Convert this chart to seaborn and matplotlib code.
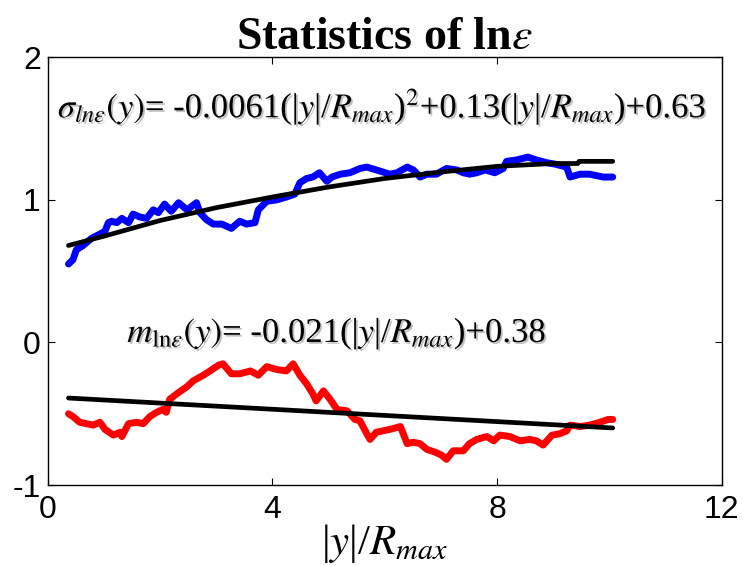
import matplotlib
matplotlib.use("Agg")
import matplotlib.pyplot as plt
import matplotlib.patheffects as pe
import seaborn as sns
import pandas as pd

# ---- data ----
sigma_x = [0.37, 0.45, 0.51, 0.63, 0.78, 0.93, 1.02, 1.08, 1.14, 1.23, 1.32, 1.44, 1.52, 1.64,
           1.76, 1.88, 1.97, 2.08, 2.20, 2.33, 2.48, 2.65, 2.71, 2.83, 2.95, 3.10, 3.27, 3.42,
           3.54, 3.69, 3.75, 3.90, 4.08, 4.25, 4.40, 4.49, 4.61, 4.72, 4.84, 4.97, 5.06, 5.21,
           5.38, 5.56, 5.68, 5.85, 6.09, 6.22, 6.40, 6.51, 6.63, 6.75, 6.92, 7.10, 7.28, 7.40,
           7.51, 7.64, 7.79, 7.96, 8.11, 8.17, 8.35, 8.55, 8.70, 8.89, 9.04, 9.24, 9.30, 9.48,
           9.65, 9.89, 10.06]
sigma_y = [0.55, 0.58, 0.65, 0.68, 0.73, 0.76, 0.78, 0.84, 0.85, 0.84, 0.87, 0.84, 0.90, 0.88,
           0.87, 0.93, 0.91, 0.97, 0.92, 0.98, 0.93, 0.98, 0.91, 0.86, 0.83, 0.83, 0.80, 0.85,
           0.83, 0.84, 0.93, 0.99, 1.00, 1.02, 1.04, 1.12, 1.15, 1.16, 1.19, 1.13, 1.16, 1.18,
           1.19, 1.22, 1.23, 1.21, 1.18, 1.19, 1.23, 1.21, 1.16, 1.18, 1.18, 1.22, 1.21, 1.19,
           1.18, 1.19, 1.21, 1.19, 1.22, 1.27, 1.28, 1.30, 1.28, 1.26, 1.25, 1.23, 1.16, 1.18,
           1.18, 1.16, 1.16]

sigma_fit_x = [0.37, 1.0, 2.0, 3.0, 4.0, 5.0, 6.0, 7.0, 8.0, 9.0, 9.44, 9.46, 10.06]
sigma_fit_y = [0.68, 0.745, 0.855, 0.945, 1.02, 1.09, 1.15, 1.195, 1.235, 1.255, 1.255, 1.27,
               1.27]

mean_x = [0.37, 0.45, 0.57, 0.69, 0.81, 0.93, 1.02, 1.17, 1.29, 1.32, 1.44, 1.58, 1.70, 1.82,
          1.94, 2.05, 2.11, 2.17, 2.30, 2.48, 2.59, 2.77, 2.89, 3.04, 3.12, 3.27, 3.42, 3.61,
          3.75, 3.90, 4.08, 4.25, 4.37, 4.49, 4.61, 4.72, 4.78, 4.91, 5.03, 5.15, 5.33, 5.47,
          5.56, 5.68, 5.74, 5.85, 6.09, 6.28, 6.40, 6.51, 6.63, 6.75, 6.90, 7.01, 7.10, 7.22,
          7.40, 7.51, 7.64, 7.82, 7.94, 8.05, 8.23, 8.41, 8.58, 8.70, 8.82, 8.98, 9.12, 9.24,
          9.30, 9.48, 9.65, 9.83, 9.98, 10.06]
mean_y = [-0.50, -0.52, -0.56, -0.57, -0.58, -0.56, -0.61, -0.65, -0.63, -0.66, -0.57, -0.56,
          -0.57, -0.52, -0.49, -0.47, -0.49, -0.40, -0.36, -0.31, -0.27, -0.23, -0.20, -0.16,
          -0.15, -0.22, -0.22, -0.20, -0.23, -0.17, -0.19, -0.20, -0.15, -0.23, -0.29, -0.36,
          -0.41, -0.34, -0.40, -0.47, -0.48, -0.54, -0.55, -0.64, -0.68, -0.63, -0.61, -0.59,
          -0.71, -0.70, -0.71, -0.75, -0.77, -0.79, -0.82, -0.76, -0.76, -0.71, -0.68, -0.66,
          -0.69, -0.65, -0.66, -0.69, -0.68, -0.69, -0.72, -0.65, -0.64, -0.62, -0.58, -0.59,
          -0.58, -0.56, -0.54, -0.54]

mean_fit_x = [0.37, 10.06]
mean_fit_y = [-0.39, -0.60]

x_ticks = [0, 4, 8, 12]
y_ticks = [-1, 0, 1, 2]

title = r"Statistics of ln$\varepsilon$"
sigma_label = (r"$\sigma_{ln\varepsilon}(y)$= -0.0061(|$y$|/$R_{max}$)$^{2}$"
               r"+0.13(|$y$|/$R_{max}$)+0.63")
mean_label = r"$m_{\mathrm{ln}\varepsilon}(y)$= -0.021(|$y$|/$R_{max}$)+0.38"
xlabel = r"|$y$|/$R_{max}$"

# ---- plotting ----
sns.set_style("white")
plt.rcParams["font.family"] = ["Liberation Sans", "DejaVu Sans"]
plt.rcParams["mathtext.fontset"] = "stix"
plt.rcParams["text.color"] = "black"
plt.rcParams["axes.labelcolor"] = "black"
plt.rcParams["xtick.color"] = "black"
plt.rcParams["ytick.color"] = "black"

fig = plt.figure(figsize=(7.43, 5.66), dpi=100)
ax = fig.add_axes([0.0642, 0.1431, 0.9071, 0.7557])

df_s = pd.DataFrame({"x": sigma_x, "y": sigma_y})
df_sf = pd.DataFrame({"x": sigma_fit_x, "y": sigma_fit_y})
df_m = pd.DataFrame({"x": mean_x, "y": mean_y})
df_mf = pd.DataFrame({"x": mean_fit_x, "y": mean_fit_y})

sns.lineplot(data=df_s, x="x", y="y", color="#0000ff", lw=5.0, ax=ax,
             estimator=None, sort=False)
sns.lineplot(data=df_m, x="x", y="y", color="#ff0000", lw=5.0, ax=ax,
             estimator=None, sort=False)
sns.lineplot(data=df_sf, x="x", y="y", color="black", lw=3.4, ax=ax,
             estimator=None, sort=False)
sns.lineplot(data=df_mf, x="x", y="y", color="black", lw=3.4, ax=ax,
             estimator=None, sort=False)

ax.set_xlim(0, 12)
ax.set_ylim(-1, 2)
ax.set_xticks(x_ticks)
ax.set_yticks(y_ticks)
ax.set_xticklabels([str(t) for t in x_ticks])
ax.set_yticklabels([str(t) for t in y_ticks])
ax.tick_params(direction="in", length=5, width=0.8, labelsize=23, color="black",
               labelcolor="black", top=True, right=True, bottom=True, left=True)
ax.tick_params(axis="x", pad=7)
ax.tick_params(axis="y", pad=5)
for s in ax.spines.values():
    s.set_color("black")
    s.set_linewidth(1.0)

ax.set_xlabel(xlabel, fontsize=31, family="Liberation Serif", labelpad=-2, color="black")
ax.set_ylabel("")
ax.set_title(title, fontsize=33, fontweight="bold", family="Liberation Serif", pad=6,
             color="black")

shadow = [pe.SimplePatchShadow(offset=(1.3, -1.3), shadow_rgbFace="gray", alpha=0.5),
          pe.Normal()]
ax.text(0.015, 0.884, sigma_label, transform=ax.transAxes, fontsize=25,
        family="Liberation Serif", va="center", ha="left", path_effects=shadow,
        color="black")
ax.text(0.118, 0.355, mean_label, transform=ax.transAxes, fontsize=25,
        family="Liberation Serif", va="center", ha="left", path_effects=shadow,
        color="black")

fig.savefig("out.png", dpi=100)
